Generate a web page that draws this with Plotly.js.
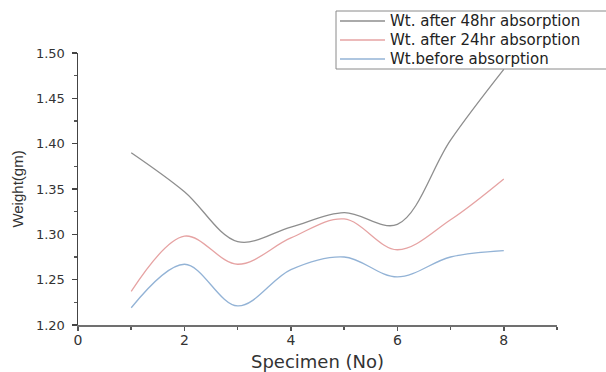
<!DOCTYPE html>
<html>
<head>
<meta charset="utf-8">
<script src="https://cdn.plot.ly/plotly-3.0.1.min.js"></script>
<style>html,body{margin:0;padding:0;background:#fff;}#chart{width:606px;height:372px;}</style>
</head>
<body>
<div id="chart"></div>
<script>
const specimen = [1, 2, 3, 4, 5, 6, 7, 8];
const wt48 = [1.390, 1.347, 1.292, 1.308, 1.324, 1.311, 1.404, 1.482];
const wt24 = [1.237, 1.298, 1.267, 1.296, 1.317, 1.283, 1.316, 1.361];
const wtBefore = [1.219, 1.267, 1.221, 1.261, 1.275, 1.253, 1.275, 1.282];
const names = ['Wt. after 48hr absorption', 'Wt. after 24hr absorption', 'Wt.before absorption'];
const colors = ['#8e8e8e', '#e6a3a3', '#93b3d6'];

const series = [wt48, wt24, wtBefore];
const traces = series.map((ys, i) => ({
  x: specimen, y: ys, name: names[i], type: 'scatter', mode: 'lines',
  line: {color: colors[i], width: 1.3, shape: 'spline', smoothing: 1},
  showlegend: false
}));

// plot area in pixels
const M = {l: 78, r: 49, t: 53, b: 47};
const W = 606, H = 372;
const pw = W - M.l - M.r, ph = H - M.t - M.b;
const px2x = p => (p - M.l) / pw;
const px2y = p => (H - M.b - p) / ph;

// legend (drawn as box + sample lines + text)
const legRows = [21, 40, 59];
const shapes = [{
  type: 'rect', xref: 'paper', yref: 'paper',
  x0: px2x(336), x1: px2x(640), y0: px2y(69), y1: px2y(11),
  line: {color: '#8a8a8a', width: 1}, fillcolor: '#ffffff', layer: 'above'
}];
const annotations = [];
names.forEach((n, i) => {
  shapes.push({
    type: 'line', xref: 'paper', yref: 'paper',
    x0: px2x(340), x1: px2x(385), y0: px2y(legRows[i]), y1: px2y(legRows[i]),
    line: {color: colors[i], width: 1.3}, layer: 'above'
  });
  annotations.push({
    xref: 'paper', yref: 'paper', x: px2x(389), y: px2y(legRows[i]),
    xanchor: 'left', yanchor: 'middle', showarrow: false, text: n, borderpad: 0,
    font: {family: 'DejaVu Sans, sans-serif', size: 15, color: '#222'}
  });
});

const font = 'Liberation Sans, Arial, sans-serif';
const layout = {
  width: W, height: H,
  margin: {l: M.l, r: M.r, t: M.t, b: M.b, autoexpand: false},
  paper_bgcolor: '#fff', plot_bgcolor: '#fff',
  font: {family: font, color: '#333', size: 15},
  showlegend: false,
  shapes: shapes,
  annotations: annotations,
  xaxis: {
    range: [0, 9], tickvals: [0, 2, 4, 6, 8], ticks: 'outside', ticklen: 4, tickwidth: 1.5,
    tickcolor: '#555', showline: true, linecolor: '#707070', linewidth: 2,
    showgrid: false, zeroline: false, ticklabelstandoff: -3,
    minor: {dtick: 1, ticks: 'outside', ticklen: 3, tickcolor: '#555', showgrid: false},
    tickfont: {family: 'DejaVu Sans, sans-serif', size: 14, color: '#333'},
    title: {text: 'Specimen (No)', font: {family: 'DejaVu Sans, sans-serif', size: 18, color: '#333'}, standoff: 10}
  },
  yaxis: {
    range: [1.20, 1.50], dtick: 0.05, tick0: 1.20, tickformat: '.2f', ticks: 'outside', ticklen: 5,
    tickwidth: 1.2, tickcolor: '#444', showline: true, linecolor: '#444', linewidth: 1.5,
    showgrid: false, zeroline: false, ticklabelstandoff: 4,
    minor: {dtick: 0.025, ticks: 'outside', ticklen: 3, tickcolor: '#555', showgrid: false},
    tickfont: {family: 'DejaVu Sans, sans-serif', size: 13, color: '#333'},
    title: {text: 'Weight(gm)', font: {size: 15, color: '#333'}, standoff: 8}
  }
};

Plotly.newPlot('chart', traces, layout, {displayModeBar: false, staticPlot: true});
</script>
</body>
</html>
